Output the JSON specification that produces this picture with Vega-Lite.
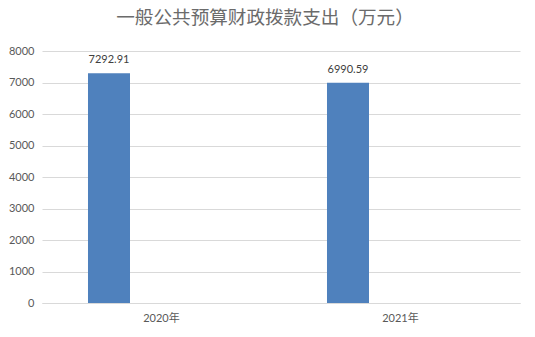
{
  "$schema": "https://vega.github.io/schema/vega-lite/v6.json",
  "width": 478,
  "height": 252,
  "autosize": {"type": "none"},
  "padding": {"left": 42, "top": 51, "right": 15, "bottom": 34},
  "background": "white",
  "title": {
    "text": "一般公共预算财政拨款支出（万元）",
    "font": "Noto Sans CJK SC",
    "fontSize": 18.6,
    "fontWeight": "normal",
    "color": "#6b6b6b",
    "anchor": "middle",
    "dx": -16,
    "offset": 17
  },
  "data": {
    "values": [
      {"year": "2020年", "series": "支出", "value": 7292.91},
      {"year": "2021年", "series": "支出", "value": 6990.59}
    ]
  },
  "encoding": {
    "x": {
      "field": "year",
      "type": "nominal",
      "scale": {"paddingInner": 0, "paddingOuter": 0},
      "axis": {
        "title": null,
        "labelAngle": 0,
        "ticks": false,
        "domainColor": "#d9d9d9",
        "labelColor": "#595959",
        "labelFont": "Lato, Noto Sans CJK SC",
        "labelFontSize": 11,
        "labelPadding": 9
      }
    },
    "xOffset": {
      "field": "series",
      "type": "nominal",
      "scale": {"domain": ["支出", "其他"], "paddingInner": 0.6, "paddingOuter": 0.438}
    },
    "y": {
      "field": "value",
      "type": "quantitative",
      "scale": {"domain": [0, 8000]},
      "axis": {
        "title": null,
        "values": [0, 1000, 2000, 3000, 4000, 5000, 6000, 7000, 8000],
        "format": "d",
        "ticks": false,
        "domain": false,
        "gridColor": "#d9d9d9",
        "labelColor": "#595959",
        "labelFont": "Lato",
        "labelFontSize": 11,
        "labelPadding": 8
      }
    }
  },
  "layer": [
    {"mark": {"type": "bar", "color": "#4f81bd"}},
    {
      "mark": {"type": "text", "baseline": "bottom", "dy": -8, "color": "#404040", "font": "Lato", "fontSize": 11},
      "encoding": {"text": {"field": "value", "type": "quantitative", "format": ".2f"}}
    }
  ],
  "config": {"view": {"stroke": null}}
}
